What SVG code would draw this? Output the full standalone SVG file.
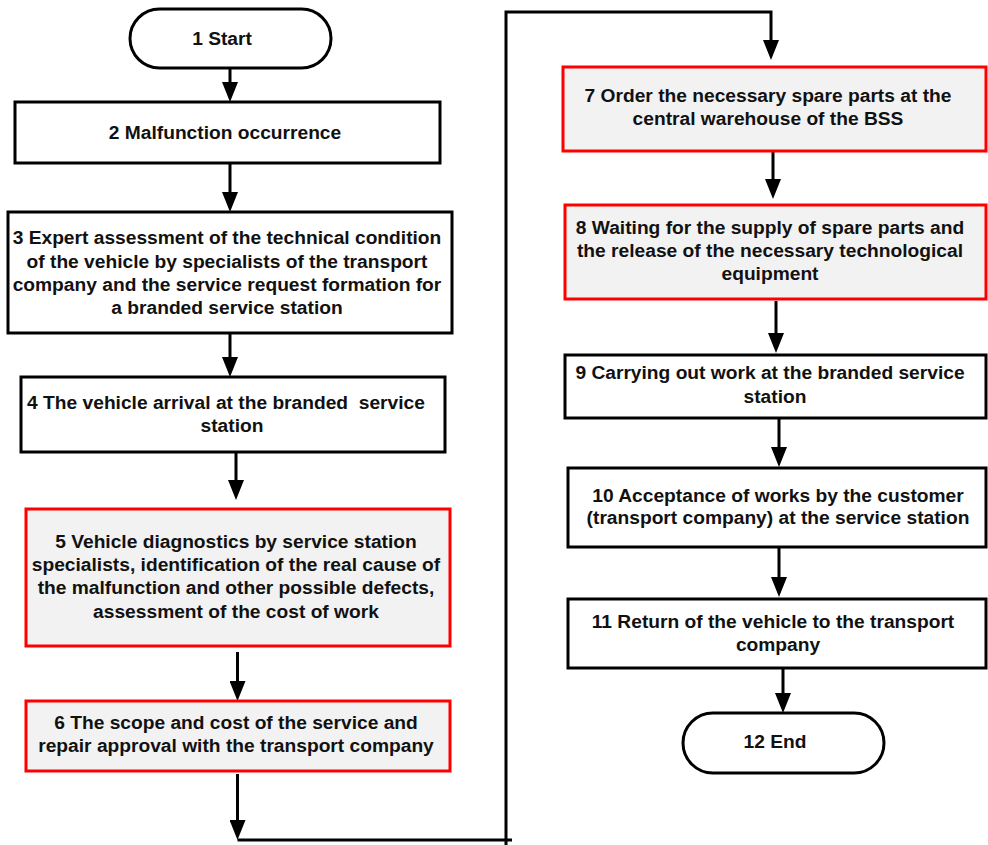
<svg xmlns="http://www.w3.org/2000/svg" width="988" height="845" viewBox="0 0 988 845">
<defs>
<marker id="ah" markerUnits="userSpaceOnUse" markerWidth="20" markerHeight="16" refX="10" refY="8" orient="auto">
<path d="M0,0 L20,8 L0,16 z" fill="#000"/>
</marker>
<style>
.b{fill:#fff;stroke:#000;stroke-width:3}
.r{fill:#f2f2f2;stroke:#ff0000;stroke-width:3}
.t{font-family:"Liberation Sans",Arial,sans-serif;font-weight:bold;font-size:19.2px;fill:#111;text-anchor:middle}
.c{fill:none;stroke:#000;stroke-width:3}
</style>
</defs>
<rect width="988" height="845" fill="#fff"/>
<g id="connectors">
<line class="c" x1="230" y1="68" x2="230" y2="92" marker-end="url(#ah)"/>
<line class="c" x1="230" y1="163" x2="230" y2="202" marker-end="url(#ah)"/>
<line class="c" x1="230" y1="333" x2="230" y2="367" marker-end="url(#ah)"/>
<line class="c" x1="236" y1="452" x2="236" y2="490" marker-end="url(#ah)"/>
<line class="c" x1="237.5" y1="652" x2="237.5" y2="691" marker-end="url(#ah)"/>
<line class="c" x1="237.5" y1="774" x2="237.5" y2="830" marker-end="url(#ah)"/>
<polyline class="c" points="237.5,840 512,840"/>
<polyline class="c" points="506,845 506,12 771,12 771,50" marker-end="url(#ah)"/>
<line class="c" x1="773" y1="151" x2="773" y2="189" marker-end="url(#ah)"/>
<line class="c" x1="776" y1="301" x2="776" y2="343" marker-end="url(#ah)"/>
<line class="c" x1="779" y1="418" x2="779" y2="457" marker-end="url(#ah)"/>
<line class="c" x1="779" y1="547" x2="779" y2="587" marker-end="url(#ah)"/>
<line class="c" x1="783" y1="668" x2="783" y2="703" marker-end="url(#ah)"/>
</g>
<g id="n1">
<rect class="b" x="130" y="9" width="201" height="59" rx="29.5"/>
<text class="t" x="222" y="45">1 Start</text>
</g>
<g id="n2">
<rect class="b" x="15" y="102" width="425" height="61"/>
<text class="t" x="225" y="139">2 Malfunction occurrence</text>
</g>
<g id="n3">
<rect class="b" x="8" y="212" width="444" height="121"/>
<text class="t" x="227" y="244">3 Expert assessment of the technical condition</text>
<text class="t" x="227" y="268">of the vehicle by specialists of the transport</text>
<text class="t" x="227" y="291">company and the service request formation for</text>
<text class="t" x="227" y="314">a branded service station</text>
</g>
<g id="n4">
<rect class="b" x="21" y="377" width="424" height="75"/>
<text class="t" x="226" y="409" xml:space="preserve">4 The vehicle arrival at the branded  service</text>
<text class="t" x="232" y="432">station</text>
</g>
<g id="n5">
<rect class="r" x="26" y="509" width="424" height="137"/>
<text class="t" x="236" y="548">5 Vehicle diagnostics by service station</text>
<text class="t" x="236" y="571">specialists, identification of the real cause of</text>
<text class="t" x="236" y="594">the malfunction and other possible defects,</text>
<text class="t" x="236" y="618">assessment of the cost of work</text>
</g>
<g id="n6">
<rect class="r" x="26" y="701" width="424" height="70"/>
<text class="t" x="236" y="729">6 The scope and cost of the service and</text>
<text class="t" x="236" y="752">repair approval with the transport company</text>
</g>
<g id="n7">
<rect class="r" x="563" y="67" width="423" height="84"/>
<text class="t" x="768" y="102">7 Order the necessary spare parts at the</text>
<text class="t" x="768" y="125">central warehouse of the BSS</text>
</g>
<g id="n8">
<rect class="r" x="565" y="205" width="421" height="94"/>
<text class="t" x="770" y="234">8 Waiting for the supply of spare parts and</text>
<text class="t" x="770" y="257">the release of the necessary technological</text>
<text class="t" x="770" y="280">equipment</text>
</g>
<g id="n9">
<rect class="b" x="565" y="355" width="421" height="63"/>
<text class="t" x="770" y="379">9 Carrying out work at the branded service</text>
<text class="t" x="775" y="403">station</text>
</g>
<g id="n10">
<rect class="b" x="568" y="468" width="418" height="79"/>
<text class="t" x="778" y="502">10 Acceptance of works by the customer</text>
<text class="t" x="778" y="524">(transport company) at the service station</text>
</g>
<g id="n11">
<rect class="b" x="568" y="599" width="418" height="69"/>
<text class="t" x="773" y="628">11 Return of the vehicle to the transport</text>
<text class="t" x="778" y="651">company</text>
</g>
<g id="n12">
<rect class="b" x="683" y="713" width="201" height="60" rx="30"/>
<text class="t" x="775" y="748">12 End</text>
</g>
</svg>
